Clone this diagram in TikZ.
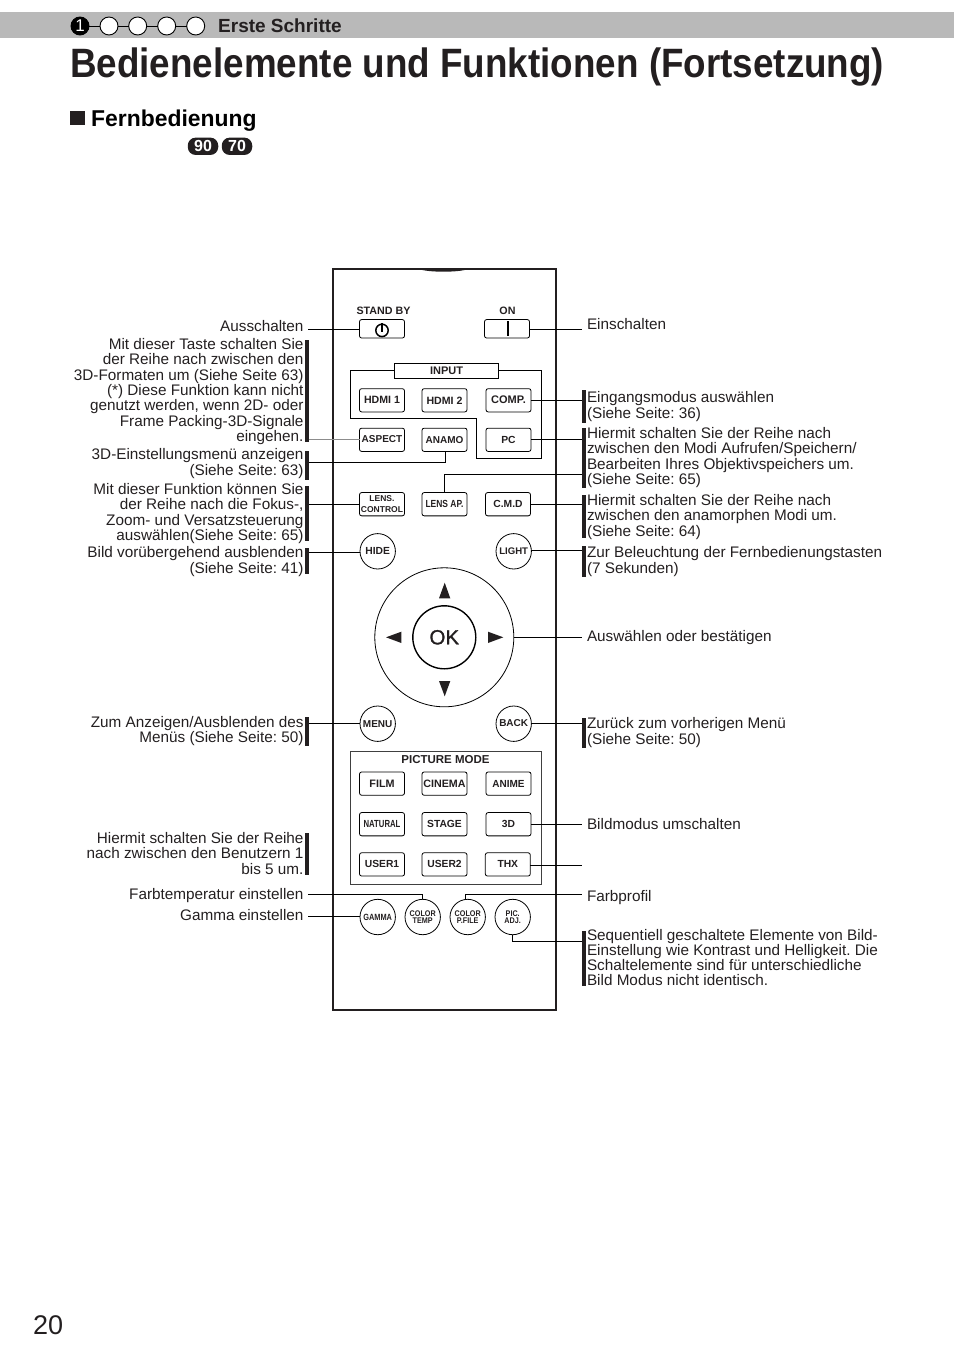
\documentclass[tikz,border=0pt]{standalone}
\usepackage{fontspec}
\usepackage{graphicx}
\setmainfont{Liberation Sans}
\newfontfamily\okfont[FakeBold=1.2]{Liberation Sans}
\frenchspacing
\definecolor{ink}{HTML}{231F20}
\definecolor{hdr}{HTML}{B9B9B9}
\tikzset{
  txt/.style={inner sep=0pt,outer sep=0pt,text=ink,font=\fontsize{15.3}{15.35}\selectfont\frenchspacing,execute at begin node=\strut},
  lab/.style={txt,anchor=north east,align=right},
  rab/.style={txt,anchor=north west,align=left},
  btn/.style={draw=black,line width=.8pt,rounded corners=2.2pt,minimum width=45pt,minimum height=23.3pt,inner sep=0pt,outer sep=0pt,text=ink,align=center,font=\fontsize{10.3}{10}\selectfont\bfseries},
  rnd/.style={draw=black,line width=.8pt,circle,minimum size=35.4pt,inner sep=0pt,outer sep=0pt,text=ink,align=center,font=\fontsize{10}{10}\selectfont\bfseries},
  captext/.style={inner sep=0pt,text=ink,font=\fontsize{10.7}{10}\selectfont\bfseries},
  small/.style={font=\fontsize{8.2}{8.2}\selectfont\bfseries},
  lead/.style={line width=1pt,draw=black},
  barnode/.style={fill=ink,draw=none,inner sep=0pt,outer sep=0pt,minimum width=4pt},
  stepdot/.style={circle,draw=black,fill=white,line width=.9pt,minimum size=18pt,inner sep=0pt,outer sep=0pt},
  pill/.style={fill=ink,rounded corners=8pt,minimum width=30.5pt,minimum height=17.4pt,inner sep=0pt,text=white,font=\fontsize{16}{16}\selectfont\bfseries},
  tri/.style={fill=ink,draw=none},
}
\newcommand{\LL}[3]{\node[lab] (#1) at (303.5,#2-10.75) {#3};}
\newcommand{\RL}[3]{\node[rab] (#1) at (587,#2-10.75) {#3};}
\newcommand{\BAR}[4]{\node[barnode,minimum height=#4pt-#3pt] (#1) at (#2,{(#3+#4)/2}) {};}
\newcommand{\nar}[2]{\scalebox{#1}[1]{#2}}
\begin{document}
\begin{tikzpicture}[x=1pt,y=-1pt]
\useasboundingbox (0,0) rectangle (954,1356);
% header
\fill[hdr] (0,12) rectangle (954,38.5);
\node[stepdot,fill=black,text=white,font=\fontsize{17}{17}\selectfont] (s1) at (80,26) {1};
\node[stepdot] (s2) at (109,26) {};
\node[stepdot] (s3) at (137.7,26) {};
\node[stepdot] (s4) at (166.7,26) {};
\node[stepdot] (s5) at (195.7,26) {};
\draw[line width=.9pt] (s1)--(s2) (s2)--(s3) (s3)--(s4) (s4)--(s5);
\node[anchor=base west,inner sep=0pt,text=ink,font=\fontsize{19}{20}\selectfont\bfseries] (h1) at (218,32.5) {Erste Schritte};
\node[anchor=base west,inner sep=0pt,text=ink,font=\fontsize{41}{42}\selectfont\bfseries] (title) at (70,78) {\resizebox{814pt}{\height}{Bedienelemente und Funktionen (Fortsetzung)}};
\node[fill=ink,minimum size=14.2pt,inner sep=0pt] (sq) at (77.5,117.8) {};
\node[anchor=base west,inner sep=0pt,text=black,font=\fontsize{22.9}{23}\selectfont\bfseries] (h2) at (91,127) {Fernbedienung};
\node[pill] (p90) at (203,146.3) {90};
\node[pill] (p70) at (237,146.3) {70};
\node[anchor=base west,inner sep=0pt,text=ink,font=\fontsize{27}{27}\selectfont] (page) at (33,1334.5) {20};
% body
\draw[line width=2pt,draw=ink] (333,269) rectangle (556,1010);
\draw[line width=1.5pt,draw=ink] (421,269) .. controls (432,271.6) and (455,271.6) .. (466,269);
% top buttons
\node[captext] (cstand) at (383.5,310.5) {STAND BY};
\node[captext] (con) at (507.5,310.5) {ON};
\node[btn,minimum height=18.5pt] (stand) at (382,328.8) {};
\node[btn,minimum height=18.5pt] (on) at (507,328.8) {};
\draw[line width=1.5pt] (382,330.4) circle (6.2pt);
\draw[line width=1.6pt] (382,323) -- (382,331.5);
\draw[line width=1.5pt] (508,321) -- (508,336);
% input
\node[draw=black,line width=.8pt,minimum width=104pt,minimum height=15.5pt,inner sep=0pt,outer sep=0pt,text=ink,font=\fontsize{11}{10}\selectfont\bfseries] (inp) at (446.5,370.8) {INPUT};
\draw[line width=.8pt] (inp.west) -- (350.5,370.8) -- (350.5,418) -- (476,418) -- (476,458) -- (541.5,458) -- (541.5,370.8) -- (inp.east);
\node[btn,font=\fontsize{10.6}{10}\selectfont\bfseries] (hdmi1) at (382,400.3) {HDMI 1};
\node[btn,font=\fontsize{10.6}{10}\selectfont\bfseries] (hdmi2) at (444.5,400.3) {HDMI 2};
\node[btn,font=\fontsize{11}{10}\selectfont\bfseries] (comp) at (508.5,400.3) {\raisebox{1pt}{COMP.}};
\node[btn,font=\fontsize{10}{10}\selectfont\bfseries] (aspect) at (382,439.8) {\raisebox{1.5pt}{ASPECT}};
\node[btn,font=\fontsize{10}{10}\selectfont\bfseries] (anamo) at (444.5,439.8) {ANAMO};
\node[btn] (pc) at (508.5,439.8) {PC};
\node[btn,font=\fontsize{8.5}{11.5}\selectfont\bfseries] (lens) at (382,504.2) {LENS.\\CONTROL};
\node[btn] (lensap) at (444.5,504.2) {\nar{.82}{LENS AP.}};
\node[btn] (cmd) at (508,504.2) {C.M.D};
% round top
\node[rnd,font=\fontsize{10.3}{10}\selectfont\bfseries] (hide) at (377.7,551.3) {HIDE};
\node[rnd,font=\fontsize{9.6}{10}\selectfont\bfseries] (light) at (513.7,551.3) {LIGHT};
\node[circle,draw=black,line width=.8pt,minimum size=139pt,inner sep=0pt,outer sep=0pt] (pad) at (444.3,637.3) {};
\node[circle,draw=black,line width=1.4pt,minimum size=63pt,inner sep=0pt,text=ink,font=\fontsize{20.5}{20}\okfont] (ok) at (444.3,637.3) {OK};
\fill[tri] (444.7,582.7) -- (439,598.3) -- (450.3,598.3) -- cycle;
\fill[tri] (444.7,696.3) -- (439,681) -- (450.3,681) -- cycle;
\fill[tri] (386,637.3) -- (401.3,631.7) -- (401.3,643) -- cycle;
\fill[tri] (503.3,637.3) -- (488,631.7) -- (488,643) -- cycle;
\node[rnd] (menu) at (377.7,723.7) {MENU};
\node[rnd] (back) at (513.7,723.7) {\raisebox{.8pt}{BACK}};
% picture mode
\draw[line width=.9pt,draw=black!75] (350.5,751.7) rectangle (541,884.3);
\node[captext,font=\fontsize{11.5}{10}\selectfont\bfseries] (cpm) at (445.5,760) {PICTURE MODE};
\node[btn,font=\fontsize{10.8}{10}\selectfont\bfseries] (film) at (382,783.6) {\raisebox{-1pt}{FILM}};
\node[btn,font=\fontsize{10.7}{10}\selectfont\bfseries] (cinema) at (444.5,783.6) {CINEMA};
\node[btn] (anime) at (508.5,783.6) {\raisebox{-1pt}{\nar{.97}{ANIME}}};
\node[btn] (natural) at (382,824.2) {\nar{.75}{NATURAL}};
\node[btn] (stage) at (444.5,824.2) {\raisebox{-.5pt}{STAGE}};
\node[btn] (d3) at (508.5,824.2) {3D};
\node[btn] (user1) at (382,864.4) {\raisebox{-1pt}{USER1}};
\node[btn] (user2) at (444.5,864.4) {USER2};
\node[btn] (thx) at (507.8,864.4) {THX};
% bottom round
\node[rnd] (gamma) at (377.7,917) {\fontsize{9}{9}\selectfont\nar{.82}{GAMMA}};
\node[rnd,small] (ctemp) at (422.7,917) {\nar{.88}{COLOR}\\[-1pt]\nar{.88}{TEMP}};
\node[rnd,small] (cfile) at (467.7,917) {\nar{.88}{COLOR}\\[-1pt]\nar{.88}{P.FILE}};
\node[rnd,small] (pic) at (512.7,917) {\nar{.88}{PIC.}\\[-1pt]\nar{.88}{ADJ.}};
% left labels
\LL{lAus}{331}{Ausschalten}
\LL{lMit}{349}{Mit dieser Taste schalten Sie\\der Reihe nach zwischen den\\3D-Formaten um (Siehe Seite 63)\\(*) Diese Funktion kann nicht\\genutzt werden, wenn 2D- oder\\Frame Packing-3D-Signale\\eingehen.}
\LL{lEin}{459}{3D-Einstellungsmenü anzeigen\\[.6pt](Siehe Seite: 63)}
\LL{lFun}{494}{Mit dieser Funktion können Sie\\der Reihe nach die Fokus-,\\Zoom- und Versatzsteuerung\\auswählen(Siehe Seite: 65)}
\LL{lBil}{557}{Bild vorübergehend ausblenden\\[.6pt](Siehe Seite: 41)}
\LL{lZum}{727}{Zum Anzeigen/Ausblenden des\\Menüs (Siehe Seite: 50)}
\LL{lHie}{843}{Hiermit schalten Sie der Reihe\\nach zwischen den Benutzern 1\\bis 5 um.}
\LL{lFar}{899}{Farbtemperatur einstellen}
\LL{lGam}{920}{Gamma einstellen}
% right labels
\RL{rEin}{329}{Einschalten}
\RL{rEing}{402}{Eingangsmodus auswählen\\[.6pt](Siehe Seite: 36)}
\RL{rHie}{438}{Hiermit schalten Sie der Reihe nach\\zwischen den Modi Aufrufen/Speichern/\\Bearbeiten Ihres Objektivspeichers um.\\(Siehe Seite: 65)}
\RL{rAna}{505}{Hiermit schalten Sie der Reihe nach\\zwischen den anamorphen Modi um.\\(Siehe Seite: 64)}
\RL{rZur}{557}{Zur Beleuchtung der Fernbedienungstasten\\[.6pt](7 Sekunden)}
\RL{rAus}{641}{Auswählen oder bestätigen}
\RL{rBack}{728}{Zurück zum vorherigen Menü\\[.6pt](Siehe Seite: 50)}
\RL{rBild}{829}{Bildmodus umschalten}
\RL{rFar}{901}{Farbprofil}
\RL{rSeq}{940}{Sequentiell geschaltete Elemente von Bild-\\[-.2pt]Einstellung wie Kontrast und Helligkeit. Die\\[-.2pt]Schaltelemente sind für unterschiedliche\\[-.2pt]Bild Modus nicht identisch.}
% bars
\BAR{bl1}{307}{340}{442}
\BAR{bl2}{307}{450.5}{479.5}
\BAR{bl3}{307}{486}{541}
\BAR{bl4}{307}{548}{574}
\BAR{bl5}{307}{717}{746}
\BAR{bl6}{307}{832.5}{875}
\BAR{br1}{584}{390}{423}
\BAR{br2}{584}{428}{488}
\BAR{br3}{584}{495}{538}
\BAR{br4}{584}{546}{577}
\BAR{br5}{584}{718}{748}
\BAR{br6}{584}{931}{986}
% free leader ends
\coordinate (eAus) at (308,329);
\coordinate (eOn) at (582,329);
\coordinate (ePad) at (582,637.3);
\coordinate (e3d) at (582,824.5);
\coordinate (eThx) at (582,865);
\coordinate (eFar) at (308,894.5);
\coordinate (eGam) at (308,916);
\coordinate (eFil) at (582,894.5);
% connectors
\draw[lead] (stand.west |- eAus) -- (eAus);
\draw[lead] (on.east |- eOn) -- (eOn);
\draw[lead] (comp.east) -- (comp.east -| br1.west);
\draw[lead] (pc.east) -- (pc.east -| br2.west);
\draw[line width=1pt,draw=black!45] (aspect.west) -- (aspect.west -| bl1.east);
\draw[lead] ([xshift=1pt]anamo.south) |- (bl2.east |- 0,462);
\draw[lead] (lensap.north) |- (br2.west |- 0,474.5);
\draw[lead] (lens.west) -- (lens.west -| bl3.east);
\draw[lead] (cmd.east) -- (cmd.east -| br3.west);
\draw[lead] (hide.west |- 0,552.5) -- (bl4.east |- 0,552.5);
\draw[lead] (light.east |- 0,550.5) -- (br4.west |- 0,550.5);
\draw[lead] (pad.east) -- (ePad);
\draw[lead] (menu.west) -- (menu.west -| bl5.east);
\draw[lead] (back.east) -- (back.east -| br5.west);
\draw[lead] (d3.east |- e3d) -- (e3d);
\draw[lead] (thx.east |- eThx) -- (eThx);
\draw[lead] (ctemp.north) |- (eFar);
\draw[lead] (gamma.west |- eGam) -- (eGam);
\draw[lead] ([xshift=-2.7pt]cfile.north) |- (eFil);
\draw[lead] (pic.south) |- (br6.west |- 0,941);
\end{tikzpicture}
\end{document}
